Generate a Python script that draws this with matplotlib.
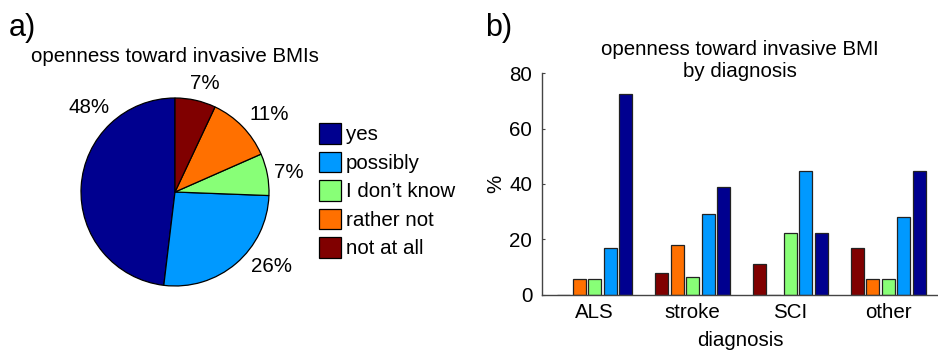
import matplotlib.pyplot as plt
import numpy as np
from matplotlib.patches import Rectangle

plt.rcParams['font.family'] = ['Liberation Sans', 'DejaVu Sans']
plt.rcParams['font.size'] = 14.8

# answer categories (legend order)
answers = ['yes', 'possibly', 'I don’t know', 'rather not', 'not at all']
colors = ['#00008f', '#0099ff', '#88ff77', '#ff7000', '#800000']

# a) whole sample, %
pie_pct = [48.1, 26.3, 7.2, 11.4, 7.0]

# b) by diagnosis, %
diagnoses = ['ALS', 'stroke', 'SCI', 'other']
pct_yes = [72.5, 38.8, 22.3, 44.6]
pct_possibly = [16.9, 29.2, 44.6, 28.0]
pct_dontknow = [5.5, 6.5, 22.3, 5.5]
pct_rathernot = [5.5, 17.8, 0, 5.5]
pct_notatall = [0, 8.0, 11.1, 16.9]

W, H = 938, 352
fig = plt.figure(figsize=(W / 100, H / 100), dpi=100)

# --- a) pie ---
cx, cy, R, half = 175, 192, 94, 140
axp = fig.add_axes([(cx - half) / W, 1 - (cy + half) / H, 2 * half / W, 2 * half / H])
wedges, _ = axp.pie(pie_pct, colors=colors, startangle=90, radius=1,
                    wedgeprops=dict(edgecolor='black', linewidth=0.9))
axp.set_xlim(-half / R, half / R)
axp.set_ylim(-half / R, half / R)
axp.set_aspect('equal')
axp.axis('off')

# label places (in pie radii), same order as answers
label_xy = [(-0.91, 0.90), (1.03, -0.79), (1.21, 0.21), (1.0, 0.82), (0.32, 1.15)]
for v, (lx, ly) in zip(pie_pct, label_xy):
    axp.text(lx, ly, '%d%%' % round(v), ha='center', va='center')

fig.text(175 / W, 1 - 57 / H, 'openness toward invasive BMIs', ha='center', va='center')
fig.text(9 / W, 1 - 28 / H, 'a)', fontsize=22, ha='left', va='center')

handles = [Rectangle((0, 0), 1, 1, facecolor=c, edgecolor='black', linewidth=0.9) for c in colors]
fig.legend(handles, answers, loc='upper left', bbox_to_anchor=(319 / W, 1 - 123 / H),
           frameon=False, borderpad=0, borderaxespad=0, handlelength=1.07, handleheight=1.19,
           handletextpad=0.25, labelspacing=0.345)

# --- b) bars ---
ax = fig.add_axes([542 / W, 1 - 294.7 / H, (W - 542) / W, (294.7 - 73.3) / H])
series = [pct_notatall, pct_rathernot, pct_dontknow, pct_possibly, pct_yes]
bar_colors = colors[::-1]
x = np.arange(len(diagnoses))
step, width = 0.159, 0.133
for i, (vals, c) in enumerate(zip(series, bar_colors)):
    ax.bar(x + (i - 2) * step, vals, width, color=c, edgecolor='#222222', linewidth=0.9)

ax.set_xlim(-0.54, 3.51)
ax.set_ylim(0, 80)
ax.set_yticks([0, 20, 40, 60, 80])
ax.set_xticks(x)
ax.set_xticklabels(diagnoses)
ax.tick_params(axis='x', length=0, pad=6)
ax.tick_params(axis='y', direction='in', length=2, pad=7, color='#444444')
for s in ['top', 'right']:
    ax.spines[s].set_visible(False)
for s in ['left', 'bottom']:
    ax.spines[s].set_color('#444444')
    ax.spines[s].set_linewidth(1.0)
ax.set_ylabel('%')
ax.yaxis.set_label_coords(-0.094, 0.5)
ax.text(0.5, 1.06, 'openness toward invasive BMI\nby diagnosis', transform=ax.transAxes,
        ha='center', va='center', linespacing=1.2)
ax.text(0.5, -0.205, 'diagnosis', transform=ax.transAxes, ha='center', va='center')
fig.text(485 / W, 1 - 28 / H, 'b)', fontsize=22, ha='left', va='center')

fig.savefig('out.png', dpi=100)
